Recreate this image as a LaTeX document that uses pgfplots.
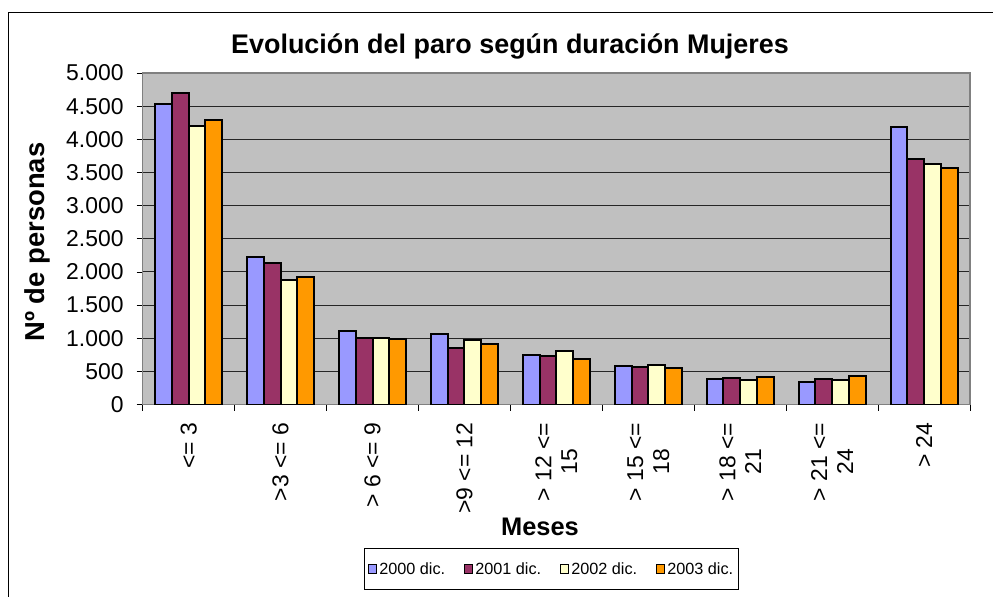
\documentclass[border=0pt]{standalone}
\usepackage{pgfplots}
\pgfplotsset{compat=1.18}
\usepackage{fontspec}
\setmainfont{Liberation Sans}
\definecolor{cA}{HTML}{9999FF}
\definecolor{cB}{HTML}{993366}
\definecolor{cC}{HTML}{FFFFCC}
\definecolor{cD}{HTML}{FF9900}
\definecolor{bgg}{HTML}{C0C0C0}
\definecolor{brd}{HTML}{808080}
\begin{document}
\begin{tikzpicture}[x=1bp,y=1bp]
\path[use as bounding box] (0,0) rectangle (993,-597);
\draw[black, line width=1bp] (8.5,-600) -- (8.5,-12.5) -- (1000,-12.5);
\begin{axis}[
  at={(142.7bp,-404.5bp)}, anchor=south west,
  scale only axis, width=827.3bp, height=331.5bp,
  xmin=-0.5, xmax=8.5, ymin=0, ymax=5000,
  ybar=0pt, bar width=0.182,
  every axis plot/.append style={draw=black, line width=2bp,
    legend image code/.code={\draw[##1, line width=1.6bp, draw=black] (0bp,-4.5bp) rectangle (8bp,4.5bp);}},
  axis background/.style={fill=bgg},
  axis line style={draw=brd, line width=1.5bp},
  ymajorgrids, major grid style={draw=black!85, line width=0.9bp},
  ytick={0,500,...,5000},
  xtick={0,...,8},
  xticklabels={{<= 3},{>3 <= 6},{> 6 <= 9},{>9 <= 12},{> 12 <=\\15},{> 15 <=\\18},{> 18 <=\\21},{> 21 <=\\24},{> 24}},
  minor xtick={-0.5,0.5,...,8.5},
  tick align=outside, tick pos=left,
  major tick length=6bp, minor tick length=6bp,
  tick style={draw=black, line width=0.8bp},
  major x tick style={draw=none},
  /pgf/number format/assume math mode=true,
  /pgf/number format/1000 sep={.},
  tick label style={font=\fontsize{23}{26}\selectfont},
  xticklabel style={rotate=90, anchor=east, align=center, inner sep=0pt},
  yticklabel style={inner sep=0pt},
  xticklabel shift=12bp,
  yticklabel shift=13bp,
  legend style={at={(0.4941,-0.4329)}, anchor=north, legend columns=4,
    draw=black, line width=0.8bp, font=\fontsize{16.3}{19}\selectfont,
    inner xsep=3bp, inner ysep=12bp,
    /tikz/every even column/.append style={column sep=16.5bp}},
]
\addplot[fill=cA] coordinates {(0,4530) (1,2230) (2,1110) (3,1070) (4,740) (5,585) (6,380) (7,345) (8,4190)};
\addplot[fill=cB] coordinates {(0,4700) (1,2140) (2,1010) (3,845) (4,725) (5,570) (6,400) (7,390) (8,3700)};
\addplot[fill=cC] coordinates {(0,4200) (1,1880) (2,1000) (3,975) (4,800) (5,595) (6,370) (7,365) (8,3630)};
\addplot[fill=cD] coordinates {(0,4290) (1,1920) (2,990) (3,910) (4,680) (5,555) (6,415) (7,435) (8,3570)};
\legend{2000 dic.,2001 dic.,2002 dic.,2003 dic.}
\end{axis}
\node[font=\bfseries\fontsize{27}{30}\selectfont, anchor=base] at (510,-54) {Evolución del paro según duración Mujeres};
\node[font=\bfseries\fontsize{25.5}{30}\selectfont, anchor=base] at (540,-535) {Meses};
\node[font=\bfseries\fontsize{27.5}{30}\selectfont, anchor=base, rotate=90] at (44,-242) {Nº de personas};
\end{tikzpicture}
\end{document}
